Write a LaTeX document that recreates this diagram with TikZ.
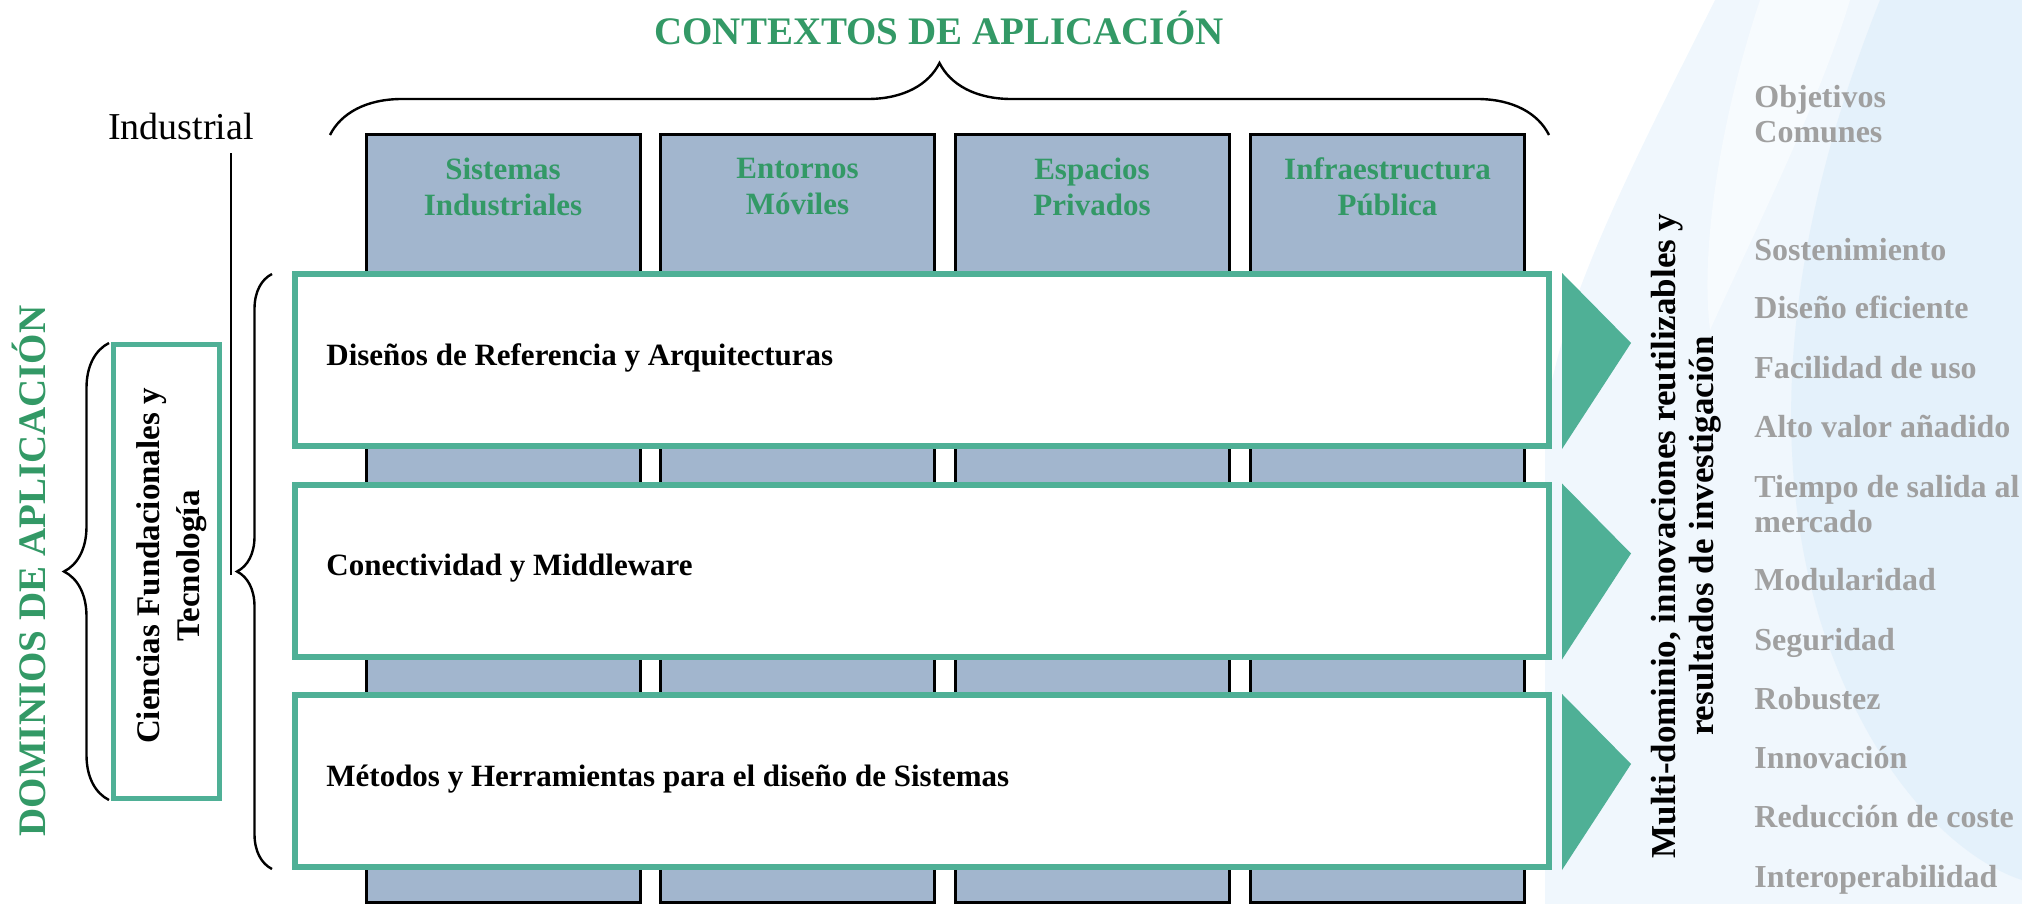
\documentclass[tikz,border=0pt]{standalone}
\usepackage{fontspec}
\setmainfont{Liberation Serif}
\usetikzlibrary{calc,decorations.pathreplacing}
\definecolor{titlegreen}{RGB}{51,153,102}
\definecolor{rowgreen}{RGB}{79,176,150}
\definecolor{colblue}{RGB}{162,182,206}
\definecolor{goalgrey}{RGB}{160,160,160}
\definecolor{bgblue}{RGB}{240,247,253}
\definecolor{bgblue2}{RGB}{228,241,251}

\tikzset{
	colbox/.style={draw=black,line width=1.5pt,fill=colblue,minimum width=137pt,minimum height=384pt,inner sep=0pt},
	collabel/.style={font=\fontsize{15.5}{18}\selectfont\bfseries,text=titlegreen,align=center,inner sep=0pt},
	rowbox/.style={draw=rowgreen,line width=3pt,fill=white,minimum width=627pt,minimum height=86pt,inner sep=0pt},
	rowlabel/.style={font=\fontsize{15.5}{18}\selectfont\bfseries,anchor=base west,inner sep=0pt},
	arrowtri/.style={fill=rowgreen},
	headline/.style={font=\fontsize{19.5}{22}\selectfont\bfseries,text=titlegreen,inner sep=0pt},
	goal/.style={font=\fontsize{16}{18}\selectfont\bfseries,text=goalgrey,anchor=base west,inner sep=0pt},
	bracket/.style={decorate,line width=1.2pt},
}

\begin{document}
\begin{tikzpicture}[x=0.5pt,y=-0.5pt]
	\useasboundingbox (0,0) rectangle (2022,904);
	% faint background on the right
	\fill[bgblue] (1715,0) .. controls (1640,150) and (1560,300) .. (1545,420) -- (1545,904) -- (2022,904) -- (2022,0) -- cycle;
	\fill[bgblue2] (1880,0) .. controls (1800,200) and (1760,420) .. (1820,620) .. controls (1870,780) and (1960,860) .. (2022,880) -- (2022,0) -- cycle;
	\fill[white,opacity=0.5] (1760,0) .. controls (1720,120) and (1700,250) .. (1710,330) .. controls (1760,220) and (1820,100) .. (1850,0) -- cycle;

	% application contexts
	\foreach \n/\x/\txt in {1/503/{Sistemas\\Industriales},2/797.5/{Entornos\\Móviles},3/1092/{Espacios\\Privados},4/1387.5/{Infraestructura\\Pública}}{
		\node[colbox] (c\n) at (\x,518) {};
		\node[collabel] (l\n) at ($(c\n.north)+(0,54)$) {\txt};
	}
	\node[headline,anchor=base] (ctx) at (939,45) {CONTEXTOS DE APLICACIÓN};
	\draw[bracket,decoration={brace,amplitude=36pt}] (330,135) -- (1549,135);

	% application domains
	\node[rowbox] (r1) at (922,360) {};
	\node[rowbox] (r2) at (922,570.5) {};
	\node[rowbox] (r3) at (922,781) {};
	\node[rowlabel] (t1) at ($(r1.west)+(34,5)$) {Diseños de Referencia y Arquitecturas};
	\node[rowlabel] (t2) at ($(r2.west)+(34,5)$) {Conectividad y Middleware};
	\node[rowlabel] (t3) at ($(r3.west)+(34,5)$) {Métodos y Herramientas para el diseño de Sistemas};
	\foreach \r in {r1,r2,r3}
		\fill[arrowtri] ($(\r.north east)+(10,2)$) -- ($(\r.north east)+(79,72)$) -- ($(\r.south east)+(10,0)$) -- cycle;
	\draw[bracket,decoration={brace,amplitude=17.5pt}] (272,869) -- (272,274);

	\node[font=\fontsize{19}{22}\selectfont,anchor=base,inner sep=0pt] (ind) at (181,140) {Industrial};
	\draw[line width=1pt] (231,153) -- (231,575);

	\node[draw=rowgreen,line width=2.5pt,minimum width=53pt,minimum height=227pt,inner sep=0pt] (found) at (166.5,571.5) {};
	\node[rotate=90,font=\fontsize{16.5}{20}\selectfont\bfseries,align=center,inner sep=0pt] (foundtxt) at (172,566) {Ciencias Fundacionales y\\Tecnología};
	\draw[bracket,decoration={brace,amplitude=22.5pt}] (109,800) -- (109,343);
	\node[headline,rotate=90,anchor=base] (dom) at (45,571) {DOMINIOS DE APLICACIÓN};

	% results and common goals
	\node[rotate=90,font=\fontsize{17.5}{19}\selectfont\bfseries,align=center,inner sep=0pt] (multi) at (1686,536) {Multi-dominio, innovaciones reutilizables y\\resultados de investigación};
	\foreach \txt/\y [count=\i] in {Objetivos/107,Comunes/142,Sostenimiento/260,Diseño eficiente/318,Facilidad de uso/378,Alto valor añadido/437,Tiempo de salida al/497,mercado/532,Modularidad/590,Seguridad/650,Robustez/709,Innovación/768,Reducción de coste/827,Interoperabilidad/887}
		\node[goal] (g\i) at (1754,\y) {\txt};
\end{tikzpicture}
\end{document}
